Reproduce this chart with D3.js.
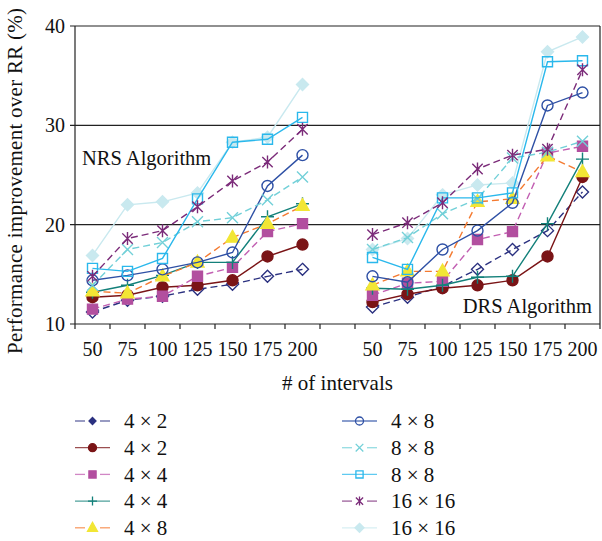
<!DOCTYPE html>
<html lang="en">
<head>
  <meta charset="UTF-8">
  <title>Performance improvement over RR</title>
  <style>
    body { margin: 0; background: #fff; }
    text { font-family: "Liberation Serif", "DejaVu Serif", serif; fill: #111; }
  </style>
</head>
<body>
  <svg></svg>
  <script src="https://cdn.jsdelivr.net/npm/d3@7"></script>
  <script>
    // x categories (the two groups share the same interval counts)
    var intervals = [50, 75, 100, 125, 150, 175, 200];
    var yTicks = [10, 20, 30, 40];
    var legendLabels = ["4 × 2", "4 × 2", "4 × 4", "4 × 4", "4 × 8",
                        "4 × 8", "8 × 8", "8 × 8", "16 × 16", "16 × 16"];

    // NRS group values (%)
    var nrs1 = [11.2, 12.4, 12.8, 13.5, 14.0, 14.8, 15.5];
    var nrs2 = [12.7, 12.9, 13.7, 13.9, 14.4, 16.8, 18.0];
    var nrs3 = [11.5, 12.5, 12.8, 14.8, 15.7, 19.3, 20.1];
    var nrs4 = [13.2, 13.9, 14.9, 16.2, 16.2, 20.8, 22.1];
    var nrs5 = [13.3, 13.1, 14.8, 16.2, 18.7, 20.1, 21.9];
    var nrs6 = [14.4, 14.9, 15.5, 16.2, 17.2, 23.9, 27.0];
    var nrs7 = [13.9, 17.5, 18.2, 20.3, 20.7, 22.5, 24.8];
    var nrs8 = [15.6, 15.3, 16.6, 22.6, 28.3, 28.6, 30.8];
    var nrs9 = [14.8, 18.6, 19.4, 21.8, 24.4, 26.3, 29.6];
    var nrs10 = [16.9, 22.0, 22.3, 23.2, 28.3, 28.8, 34.1];

    // DRS group values (%)
    var drs1 = [11.7, 12.7, 13.8, 15.5, 17.5, 19.4, 23.3];
    var drs2 = [12.2, 13.0, 13.6, 13.9, 14.4, 16.8, 24.8];
    var drs3 = [12.9, 14.1, 14.3, 18.5, 19.3, 27.2, 27.9];
    var drs4 = [13.6, 13.5, 13.9, 14.7, 14.8, 20.1, 26.6];
    var drs5 = [13.9, 15.3, 15.3, 22.3, 22.6, 26.9, 25.3];
    var drs6 = [14.8, 14.2, 17.5, 19.4, 22.2, 32.0, 33.3];
    var drs7 = [17.5, 18.7, 21.1, 22.6, 26.7, 27.3, 28.4];
    var drs8 = [16.7, 15.5, 22.7, 22.7, 23.2, 36.4, 36.5];
    var drs9 = [19.0, 20.2, 22.2, 25.6, 27.0, 27.6, 35.6];
    var drs10 = [17.5, 18.6, 23.0, 24.0, 24.2, 37.4, 38.9];

    var nrsSeries = [nrs1, nrs2, nrs3, nrs4, nrs5, nrs6, nrs7, nrs8, nrs9, nrs10];
    var drsSeries = [drs1, drs2, drs3, drs4, drs5, drs6, drs7, drs8, drs9, drs10];

    // styles for each series, same order as the legend
    var styles = [
      { line: "#2b3180", dash: "7,4", marker: "diamond", fill: "none", stroke: "#2b3180", legendFill: "#2b3180" },
      { line: "#7a1416", dash: null, marker: "circle", fill: "#7a1416", stroke: "#7a1416" },
      { line: "#c25fb2", dash: "7,4", marker: "square", fill: "#b24f9f", stroke: "#b24f9f" },
      { line: "#13807a", dash: null, marker: "plus", fill: "none", stroke: "#13807a" },
      { line: "#f47a30", dash: "7,4", marker: "triangle", fill: "#f2e635", stroke: "#f2e635" },
      { line: "#2e50a5", dash: null, marker: "circle", fill: "none", stroke: "#2e50a5" },
      { line: "#72d0d8", dash: "7,4", marker: "times", fill: "none", stroke: "#72d0d8" },
      { line: "#2ab8ec", dash: null, marker: "square", fill: "none", stroke: "#2ab8ec" },
      { line: "#7b2b79", dash: "7,4", marker: "asterisk", fill: "none", stroke: "#7b2b79" },
      { line: "#c9e9ef", dash: null, marker: "diamond", fill: "#c9e9ef", stroke: "#c9e9ef" }
    ];

    var width = 602, height = 541;
    var mLeft = 75, mRight = 600, mTop = 26, mBottom = 324;

    var svg = d3.select("svg")
      .attr("width", width)
      .attr("height", height);

    // 15 slots: NRS group, an empty slot, DRS group
    var keys = intervals.map(d => "N" + d).concat(["gap"], intervals.map(d => "D" + d));
    var x = d3.scaleBand().domain(keys).range([mLeft, mRight]).padding(0);
    var y = d3.scaleLinear().domain([10, 40]).range([mBottom, mTop]);

    // frame and gridlines
    svg.append("g")
      .selectAll("line")
      .data(yTicks)
      .join("line")
      .attr("x1", mLeft - 5)
      .attr("x2", mRight)
      .attr("y1", d => y(d))
      .attr("y2", d => y(d))
      .attr("stroke", "#222")
      .attr("stroke-width", 1.2);
    svg.append("line")
      .attr("x1", mLeft).attr("x2", mLeft)
      .attr("y1", mTop).attr("y2", mBottom)
      .attr("stroke", "#222").attr("stroke-width", 1.2);
    svg.append("line")
      .attr("x1", mRight).attr("x2", mRight)
      .attr("y1", mTop).attr("y2", mBottom)
      .attr("stroke", "#222").attr("stroke-width", 1.2);

    // y axis labels
    svg.append("g")
      .selectAll("text")
      .data(yTicks)
      .join("text")
      .attr("x", mLeft - 10)
      .attr("y", d => y(d))
      .attr("dy", "0.35em")
      .attr("text-anchor", "end")
      .attr("font-size", "20px")
      .text(d => d);

    // x axis: labels at band centres, tick marks at band edges
    var xAxis = d3.axisBottom(x)
      .tickSize(0)
      .tickPadding(18)
      .tickFormat(d => d === "gap" ? "" : d.slice(1));
    var gx = svg.append("g")
      .attr("transform", `translate(0, ${mBottom})`)
      .call(xAxis);
    gx.select(".domain").remove();
    gx.selectAll("text")
      .attr("font-size", "20px")
      .attr("font-family", "Liberation Serif, serif")
      .attr("fill", "#111");

    svg.append("g")
      .selectAll("line")
      .data(keys.map(k => x(k)).concat([mRight]))
      .join("line")
      .attr("x1", d => d).attr("x2", d => d)
      .attr("y1", mBottom).attr("y2", mBottom + 5)
      .attr("stroke", "#222").attr("stroke-width", 1.2);

    // axis titles
    svg.append("text")
      .attr("transform", "translate(22, 181) rotate(-90)")
      .attr("text-anchor", "middle")
      .attr("font-size", "21px")
      .attr("textLength", 346)
      .attr("lengthAdjust", "spacing")
      .text("Performance improvement over RR (%)");

    svg.append("text")
      .attr("x", (mLeft + mRight) / 2)
      .attr("y", 390)
      .attr("text-anchor", "middle")
      .attr("font-size", "21px")
      .text("# of intervals");

    svg.append("text")
      .attr("x", 82)
      .attr("y", 165)
      .attr("font-size", "20.5px")
      .text("NRS Algorithm");

    svg.append("text")
      .attr("x", 592)
      .attr("y", 313)
      .attr("text-anchor", "end")
      .attr("font-size", "20.5px")
      .text("DRS Algorithm");

    // marker shapes
    function markerPath(type, s) {
      if (type === "diamond") return `M0,${-s}L${s},0L0,${s}L${-s},0Z`;
      if (type === "square") return `M${-s},${-s}H${s}V${s}H${-s}Z`;
      if (type === "triangle") return `M0,${-s * 1.1}L${s},${s * 0.7}L${-s},${s * 0.7}Z`;
      if (type === "plus") return `M${-s},0H${s}M0,${-s}V${s}`;
      if (type === "times") return `M${-s},${-s}L${s},${s}M${-s},${s}L${s},${-s}`;
      if (type === "asterisk") {
        var a = s * 0.8;
        return `M${-a},${-a}L${a},${a}M${-a},${a}L${a},${-a}M0,${-s}V${s}`;
      }
      return d3.arc()({ innerRadius: 0, outerRadius: s, startAngle: 0, endAngle: 2 * Math.PI });
    }
    var markerSize = { diamond: 6, circle: 5.5, square: 5, plus: 6.5, triangle: 6.5, times: 5.5, asterisk: 6.5 };
    var legendSize = { diamond: 4.5, circle: 4, square: 3.6, plus: 4.5, triangle: 5, times: 3.8, asterisk: 4.5 };

    var line = d3.line()
      .x(d => x(d.key) + x.bandwidth() / 2)
      .y(d => y(d.value));

    // draw the light diamond series first so the others sit on top
    var order = [9, 0, 1, 2, 3, 4, 5, 6, 7, 8];
    var plot = svg.append("g");

    order.forEach(function (i) {
      var st = styles[i];
      [["N", nrsSeries[i]], ["D", drsSeries[i]]].forEach(function (grp) {
        var pts = grp[1].map((v, j) => ({ key: grp[0] + intervals[j], value: v }));
        var g = plot.append("g");
        g.append("path")
          .datum(pts)
          .attr("d", line)
          .attr("fill", "none")
          .attr("stroke", st.line)
          .attr("stroke-width", 1.4)
          .attr("stroke-dasharray", st.dash);
        g.selectAll("path.m")
          .data(pts)
          .join("path")
          .attr("class", "m")
          .attr("transform", d => `translate(${x(d.key) + x.bandwidth() / 2}, ${y(d.value)})`)
          .attr("d", markerPath(st.marker, markerSize[st.marker]))
          .attr("fill", st.fill)
          .attr("stroke", st.stroke)
          .attr("stroke-width", 1.4);
      });
    });

    // legend, two columns of five
    var legend = svg.append("g");
    var rowH = 26.7, sample = 35;
    legend.selectAll("g")
      .data(styles)
      .join("g")
      .attr("transform", (d, i) => `translate(${i < 5 ? 75 : 342}, ${421 + (i % 5) * rowH})`)
      .each(function (st, i) {
        var g = d3.select(this);
        // dashed samples show one dash either side of the marker
        var segs = st.dash ? [[0, 10], [sample - 10, sample]] : [[0, sample]];
        g.selectAll("line")
          .data(segs)
          .join("line")
          .attr("x1", d => d[0]).attr("x2", d => d[1])
          .attr("stroke", st.line)
          .attr("stroke-opacity", 0.75)
          .attr("stroke-width", 1.3);
        var small = st.marker === "diamond" && st.fill === "none";
        g.append("path")
          .attr("transform", `translate(${sample / 2}, 0)`)
          .attr("d", markerPath(st.marker, small ? 3.5 : legendSize[st.marker]))
          .attr("fill", small ? st.legendFill : st.fill)
          .attr("stroke", st.stroke)
          .attr("stroke-width", 1.3);
        g.append("text")
          .attr("x", 49)
          .attr("dy", "0.35em")
          .attr("font-size", "21px")
          .text(legendLabels[i]);
      });
  </script>
</body>
</html>
